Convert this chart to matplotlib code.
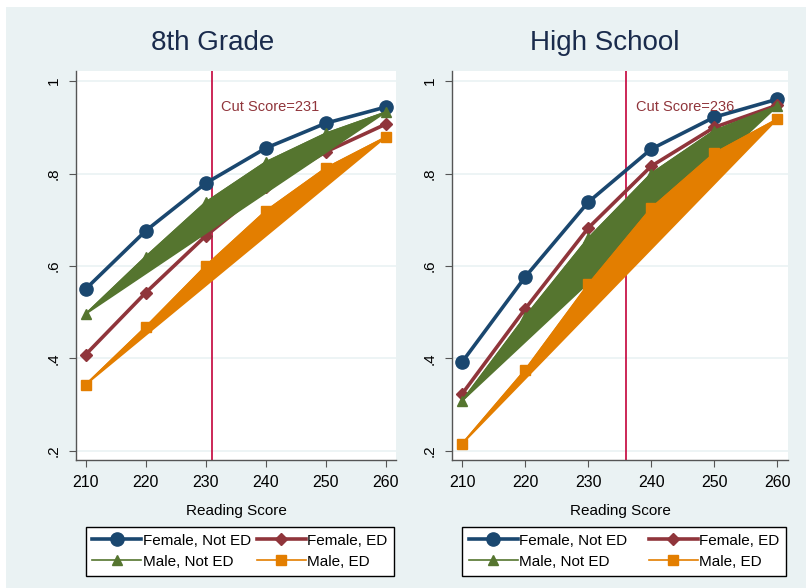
import matplotlib
matplotlib.use("Agg")
import matplotlib.pyplot as plt

plt.rcParams["font.family"] = ["Liberation Sans", "DejaVu Sans"]

# reading score grid shared by both panels
scores = [210, 220, 230, 240, 250, 260]
y_ticks = [0.2, 0.4, 0.6, 0.8, 1.0]
y_tick_labels = [".2", ".4", ".6", ".8", "1"]

# 8th grade probabilities
g8_female_not_ed = [0.550, 0.676, 0.779, 0.855, 0.909, 0.944]
g8_female_ed = [0.408, 0.542, 0.665, 0.770, 0.847, 0.907]
g8_male_not_ed = [0.496, 0.620, 0.738, 0.825, 0.887, 0.933]
g8_male_ed = [0.343, 0.468, 0.600, 0.719, 0.812, 0.879]
g8_cut = 231

# high school probabilities
hs_female_not_ed = [0.392, 0.576, 0.738, 0.853, 0.922, 0.961]
hs_female_ed = [0.323, 0.507, 0.682, 0.816, 0.900, 0.948]
hs_male_not_ed = [0.308, 0.490, 0.660, 0.800, 0.893, 0.946]
hs_male_ed = [0.215, 0.375, 0.560, 0.725, 0.844, 0.918]
hs_cut = 236

NAVY, MAROON, GREEN, ORANGE = "#1a476f", "#90353b", "#55752f", "#e37e00"
CUT_COL = "#c8164a"
BG = "#eaf2f3"

W, H = 806, 588
fig = plt.figure(figsize=(W / 100, H / 100), dpi=100)
fig.patch.set_facecolor("white")
# graph region background (small white margin at top/left like the original)
fig.add_artist(plt.Rectangle((6 / W, 0), 1 - 6 / W, 1 - 7 / H, transform=fig.transFigure,
                             facecolor=BG, edgecolor="none", zorder=0))


def px_axes(left, top, right, bottom):
    return fig.add_axes([left / W, 1 - bottom / H, (right - left) / W, (bottom - top) / H])


def panel(ax, title, title_x, fne, fe, mne, me, cut):
    ax.set_facecolor("white")
    ax.set_xlim(208.4, 261.7)
    ax.set_ylim(0.18, 1.022)
    for s in ("top", "right"):
        ax.spines[s].set_visible(False)
    for s in ("left", "bottom"):
        ax.spines[s].set_color("#555555")
        ax.spines[s].set_linewidth(1.0)
    ax.set_yticks(y_ticks)
    ax.set_yticklabels(y_tick_labels, rotation=90, va="center", fontsize=11)
    ax.set_xticks(scores)
    ax.set_xticklabels([str(s) for s in scores], fontsize=11.5)
    ax.tick_params(direction="out", length=5, color="#555555", pad=6)
    ax.grid(axis="y", color=BG, lw=1.2)
    ax.set_axisbelow(True)
    ax.set_xlabel("Reading Score", fontsize=11, labelpad=10)

    ax.plot(scores, fne, color=NAVY, lw=2.6, marker="o", ms=9.5, zorder=3,
            label="Female, Not ED")
    ax.plot(scores, fe, color=MAROON, lw=2.6, marker="D", ms=6.5, zorder=3,
            label="Female, ED")
    # the male series render as closed filled polygons in the original
    ax.fill(scores, mne, color=GREEN, lw=1.2, zorder=4)
    ax.plot(scores, mne, color=GREEN, lw=1.2, marker="^", ms=7, zorder=4,
            label="Male, Not ED")
    ax.fill(scores, me, color=ORANGE, lw=1.2, zorder=5)
    ax.plot(scores, me, color=ORANGE, lw=1.2, marker="s", ms=6.5, zorder=5,
            label="Male, ED")

    ax.axvline(cut, color=CUT_COL, lw=1.3, zorder=2)
    ax.text(cut + 1.6, 0.945, f"Cut Score={cut}", color=MAROON, fontsize=10.5,
            va="center", ha="left", zorder=6)

    fig.text(title_x / W, 1 - 43 / H, title, ha="center", va="center",
             fontsize=20, color="#1a2b4c")

    handles, labels = ax.get_legend_handles_labels()
    order = [0, 2, 1, 3]
    leg = ax.legend([handles[i] for i in order], [labels[i] for i in order],
                    ncol=2, loc="upper left", bbox_to_anchor=(0.03, -0.303, 0.965, 0.131),
                    mode="expand", fancybox=False, edgecolor="black", framealpha=1,
                    fontsize=11, handlelength=3.2, borderaxespad=0, columnspacing=0.8,
                    handletextpad=0.1, labelspacing=0.45, borderpad=0.45)
    leg.get_frame().set_linewidth(1.0)


ax1 = px_axes(76, 71, 396, 460)
panel(ax1, "8th Grade", 213, g8_female_not_ed, g8_female_ed, g8_male_not_ed, g8_male_ed, g8_cut)

ax2 = px_axes(452, 71, 788, 460)
panel(ax2, "High School", 605, hs_female_not_ed, hs_female_ed, hs_male_not_ed, hs_male_ed, hs_cut)

fig.savefig("out.png", dpi=100)
